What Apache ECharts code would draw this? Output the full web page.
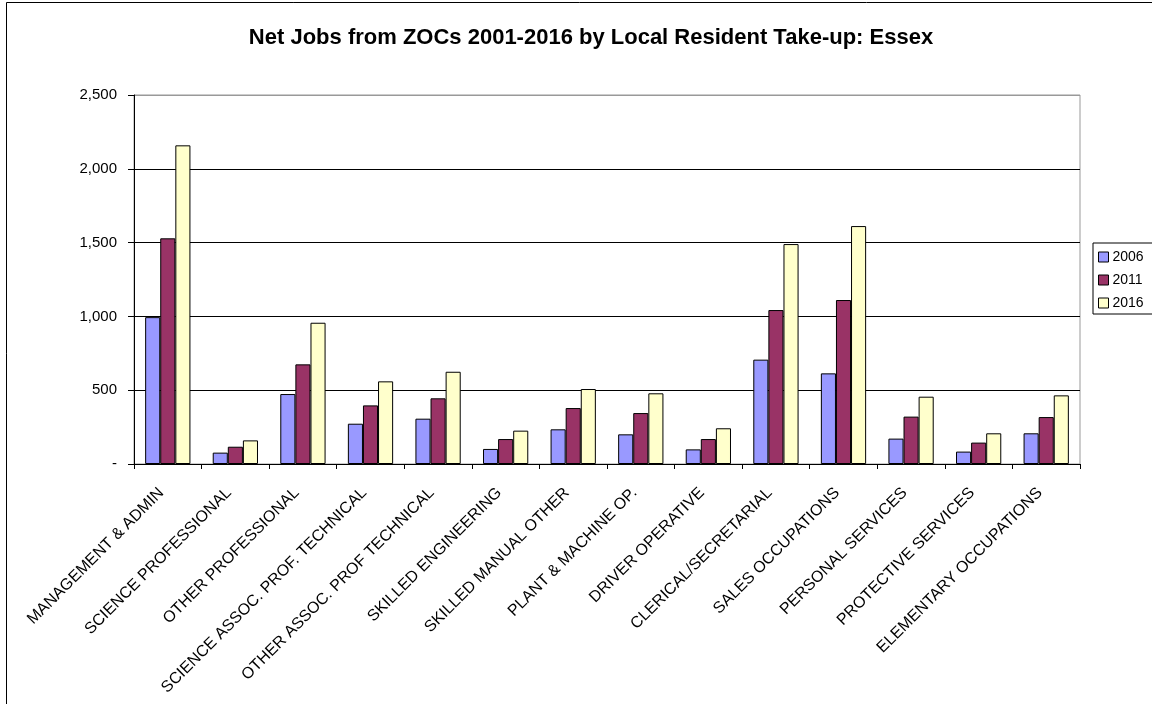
<!DOCTYPE html>
<html>
<head>
<meta charset="utf-8">
<script src="https://cdn.jsdelivr.net/npm/echarts@6/dist/echarts.min.js"></script>
<style>
  html, body { margin: 0; padding: 0; background: #fff; }
  #chart { width: 1152px; height: 704px; }
</style>
</head>
<body>
<div id="chart"></div>
<script>
// Occupation groups on the category axis
const categories = [
  'MANAGEMENT & ADMIN', 'SCIENCE PROFESSIONAL', 'OTHER PROFESSIONAL',
  'SCIENCE ASSOC. PROF. TECHNICAL', 'OTHER ASSOC. PROF TECHNICAL',
  'SKILLED ENGINEERING', 'SKILLED MANUAL OTHER', 'PLANT & MACHINE OP.',
  'DRIVER OPERATIVE', 'CLERICAL/SECRETARIAL', 'SALES OCCUPATIONS',
  'PERSONAL SERVICES', 'PROTECTIVE SERVICES', 'ELEMENTARY OCCUPATIONS'
];
const seriesNames = ['2006', '2011', '2016'];
// Net jobs taken up by local residents
const jobs2006 = [995, 77, 474, 273, 307, 102, 235, 201, 99, 707, 614, 172, 84, 208];
const jobs2011 = [1529, 117, 675, 397, 445, 169, 379, 345, 169, 1043, 1111, 321, 145, 318];
const jobs2016 = [2159, 160, 957, 560, 625, 226, 508, 479, 242, 1490, 1612, 456, 208, 465];
const yTicks = [0, 500, 1000, 1500, 2000, 2500];

const colors = ['#9999FF', '#993366', '#FFFFCC'];
const font = 'Liberation Sans, Arial, sans-serif';

const chart = echarts.init(document.getElementById('chart'), null, { renderer: 'canvas' });

const values = [jobs2006, jobs2011, jobs2016];

chart.setOption({
  animation: false,
  backgroundColor: '#fff',
  color: colors,
  textStyle: { fontFamily: font },
  title: {
    text: 'Net Jobs from ZOCs 2001-2016 by Local Resident Take-up: Essex',
    left: 586,
    textAlign: 'center',
    top: 22,
    textStyle: { fontFamily: font, fontSize: 22, fontWeight: 'bold', color: '#000' }
  },
  // outer chart frame
  graphic: [{
    type: 'rect',
    shape: { x: 6.5, y: 2.5, width: 1300, height: 800 },
    style: { fill: null, stroke: '#000', lineWidth: 1 },
    silent: true
  }],
  legend: {
    orient: 'vertical',
    left: 1093,
    top: 243,
    padding: [7, 20, 4, 5],
    itemGap: 9,
    itemWidth: 10,
    itemHeight: 10,
    icon: 'rect',
    borderColor: '#000',
    borderWidth: 1,
    data: seriesNames,
    textStyle: { fontFamily: font, fontSize: 14, color: '#000', padding: [0, 0, 0, -1] },
    itemStyle: { borderColor: '#000', borderWidth: 1 }
  },
  grid: {
    left: 134,
    right: 72,
    top: 95,
    bottom: 240,
    show: true,
    borderColor: '#999',
    borderWidth: 1,
    containLabel: false
  },
  xAxis: {
    type: 'category',
    data: categories,
    axisLine: { lineStyle: { color: '#000', width: 1 } },
    axisTick: { show: true, length: 5, lineStyle: { color: '#000' } },
    axisLabel: {
      rotate: 45,
      interval: 0,
      margin: 20,
      padding: [0, 9, 0, 0],
      fontFamily: font,
      fontSize: 16,
      color: '#000'
    }
  },
  yAxis: {
    type: 'value',
    min: yTicks[0],
    max: yTicks[yTicks.length - 1],
    interval: 500,
    axisLine: { show: true, lineStyle: { color: '#000', width: 1 } },
    axisTick: { show: true, length: 6, lineStyle: { color: '#000' } },
    splitLine: {
      show: true,
      lineStyle: { color: ['#000', '#000', '#000', '#000', '#000', '#999'], width: 1 }
    },
    axisLabel: {
      margin: 17,
      fontFamily: font,
      fontSize: 15,
      color: '#000',
      formatter: v => (v === 0 ? '-' : v.toLocaleString('en-US'))
    }
  },
  series: seriesNames.map((name, i) => ({
    name,
    type: 'bar',
    data: values[i],
    barGap: '0%',
    barCategoryGap: '33%',
    itemStyle: { color: colors[i], borderColor: '#000', borderWidth: 1 }
  }))
});
</script>
</body>
</html>
